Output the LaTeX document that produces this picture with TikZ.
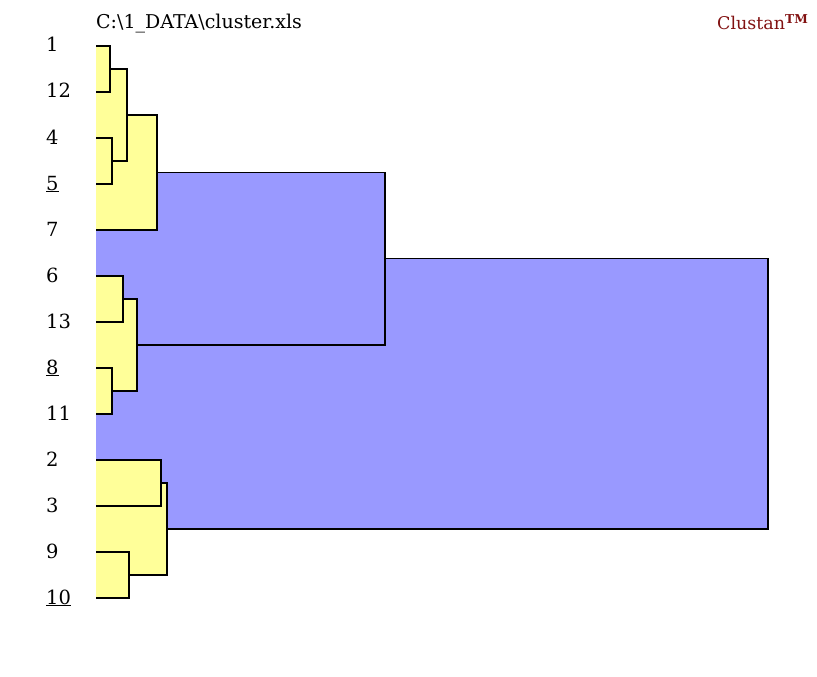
\documentclass[tikz,border=0pt]{standalone}
\usepackage{fontspec}
\setmainfont{DejaVu Serif}
\usetikzlibrary{calc}
\usepackage{xcolor}
\definecolor{leafyellow}{RGB}{255,255,153}
\definecolor{joinblue}{RGB}{153,153,255}
\definecolor{brandred}{RGB}{130,18,18}

\tikzset{
  leaflabel/.style={anchor=base west,inner sep=0pt,font=\fontsize{19.5}{22}\selectfont},
  joinline/.style={draw=black,line width=1.4pt,line join=miter}
}
\newcommand{\mergept}[4]{\path let \p1=($(#3)!.5!(#4)$) in coordinate (#1) at (#2pt,\y1);}
\newcommand{\joinbox}[4]{%
  \fill[#1] (edge |- #3) rectangle (#2 |- #4);
  \draw[joinline] (#3) -| (#2 |- #4) -- (#4);
}

\begin{document}
\begin{tikzpicture}[x=1pt,y=-1pt]
\useasboundingbox (0,0) rectangle (817,677);
\coordinate (edge) at (96,0);

\node [anchor=base west,inner sep=0pt,font=\fontsize{19}{22}\selectfont] (file) at (96,29) {C:\textbackslash 1\_DATA\textbackslash cluster.xls};
\node [anchor=base west,inner sep=0pt,text=brandred,font=\fontsize{17.5}{20}\selectfont] (brand) at (717,30) {Clustan\textsuperscript{\bfseries TM}};

\foreach \t/\k/\y in {1/1/46, 12/12/92, 4/4/138, {\underline{5}}/5/184, 7/7/230, 6/6/276, 13/13/322, {\underline{8}}/8/368, 11/11/414, 2/2/460, 3/3/506, 9/9/552, {\underline{10}}/10/598}{
  \node [leaflabel] (n\k) at (46,\y+6) {\t};
  \coordinate (p\k) at (96,\y);
}

\mergept{m1}{110}{p1}{p12}
\mergept{m2}{112}{p4}{p5}
\mergept{m3}{127}{m1}{m2}
\mergept{m4}{157}{m3}{p7}
\mergept{m5}{123}{p6}{p13}
\mergept{m6}{112}{p8}{p11}
\mergept{m7}{137}{m5}{m6}
\mergept{m8}{385}{m4}{m7}
\mergept{m9}{161}{p2}{p3}
\mergept{m10}{129}{p9}{p10}
\mergept{m11}{167}{m9}{m10}
\mergept{m12}{768}{m8}{m11}

\joinbox{joinblue}{m12}{m8}{m11}
\joinbox{joinblue}{m8}{m4}{m7}
\joinbox{leafyellow}{m4}{m3}{p7}
\joinbox{leafyellow}{m3}{m1}{m2}
\joinbox{leafyellow}{m1}{p1}{p12}
\joinbox{leafyellow}{m2}{p4}{p5}
\joinbox{leafyellow}{m7}{m5}{m6}
\joinbox{leafyellow}{m5}{p6}{p13}
\joinbox{leafyellow}{m6}{p8}{p11}
\joinbox{leafyellow}{m11}{m9}{m10}
\joinbox{leafyellow}{m9}{p2}{p3}
\joinbox{leafyellow}{m10}{p9}{p10}
\end{tikzpicture}
\end{document}
